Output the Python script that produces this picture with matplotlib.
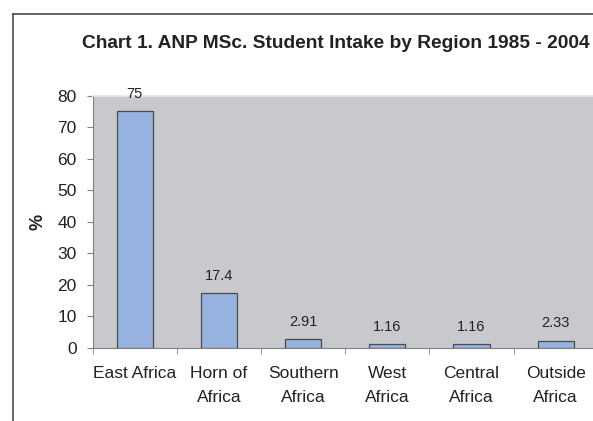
import matplotlib
matplotlib.use("Agg")
import matplotlib.pyplot as plt
import numpy as np

regions = ["East Africa", "Horn of\nAfrica", "Southern\nAfrica", "West\nAfrica",
           "Central\nAfrica", "Outside\nAfrica"]
intake_pct = [75, 17.4, 2.91, 1.16, 1.16, 2.33]
value_labels = ["75", "17.4", "2.91", "1.16", "1.16", "2.33"]

plt.rcParams["font.family"] = ["Liberation Sans", "DejaVu Sans"]

fig = plt.figure(figsize=(5.93, 4.21), dpi=100)
ax = fig.add_axes([92.7 / 593, 73.0 / 421, 505 / 593, 252.5 / 421])
ax.set_facecolor("#c8c9cd")

x = np.arange(len(regions))
bars = ax.bar(x, intake_pct, width=0.43, color="#95b3de",
              edgecolor="#4a4a4a", linewidth=0.9, zorder=3)

for b, lab in zip(bars, value_labels):
    ax.annotate(lab, (b.get_x() + b.get_width() / 2, b.get_height()),
                xytext=(0, 9.5), textcoords="offset points",
                ha="center", va="baseline", fontsize=10.5, color="#222222")

ax.set_xlim(-0.5, len(regions) - 0.5)
ax.set_ylim(0, 80)
ax.set_yticks(range(0, 81, 10))
ax.tick_params(axis="y", labelsize=12.5, labelcolor="#222222", color="#808080",
               length=4.5, pad=7)

# category labels centred, tick marks on the boundaries
ax.set_xticks(x)
ax.set_xticklabels(regions, fontsize=12.5, color="#222222", linespacing=1.72)
ax.tick_params(axis="x", which="major", length=0, pad=13)
ax.set_xticks(np.arange(-0.5, len(regions)), minor=True)
ax.tick_params(axis="x", which="minor", length=4, color="#808080")

ax.spines["left"].set_color("#808080")
ax.spines["bottom"].set_color("#808080")
ax.spines["top"].set_color("#e6e6e6")
ax.spines["top"].set_linewidth(1.2)
ax.spines["right"].set_visible(False)

ax.set_ylabel("%", fontsize=13, fontweight="bold", labelpad=8, color="#222222")

fig.text(336 / 593, 1 - 43 / 421,
         "Chart 1. ANP MSc. Student Intake by Region 1985 - 2004",
         ha="center", va="center", fontsize=13.8, fontweight="bold", color="#222222")

# chart frame (cut off on the right and bottom)
fig.add_artist(plt.Line2D([12.5 / 593, 12.5 / 593], [0, 1 - 14 / 421],
                          transform=fig.transFigure, color="#3c3c3c", linewidth=1.1))
fig.add_artist(plt.Line2D([12.5 / 593, 1.0], [1 - 14 / 421, 1 - 14 / 421],
                          transform=fig.transFigure, color="#3c3c3c", linewidth=1.1))

fig.savefig("out.png", dpi=100)
